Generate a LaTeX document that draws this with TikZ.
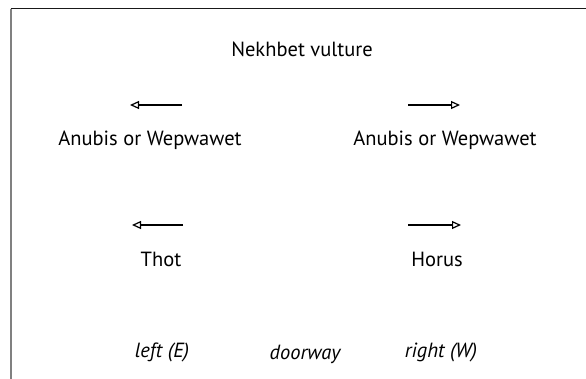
\documentclass[tikz,border=0pt]{standalone}
\usepackage{fontspec}
\setmainfont{PT Sans}
\usetikzlibrary{arrows.meta}
\begin{document}
\begin{tikzpicture}[x=1pt,y=-1pt,
  lbl/.style={inner sep=0pt,anchor=base,font=\fontsize{20.5}{24}\selectfont},
  ilbl/.style={lbl,font=\fontsize{20.5}{24}\selectfont\itshape},
  dirarrow/.style={line width=1.2pt,-{Triangle[open,length=9pt,width=8pt,line width=1.2pt]}}]
\useasboundingbox (0,0) rectangle (586,379);
\coordinate (fTL) at (10.5,9);
\coordinate (fTR) at (586,9);
\coordinate (fBL) at (10.5,379);
\draw[line width=1pt,black!90] (fTL) -- (fTR);
\draw[line width=2pt,black!50] (fTL) -- (fBL);
\node[lbl] (nek) at (302,57) {Nekhbet vulture};
\node[lbl] (anl) at (150,146) {Anubis or Wepwawet};
\node[lbl] (anr) at (445,146) {Anubis or Wepwawet};
\node[lbl] (thot) at (161,267) {Thot};
\node[lbl] (horus) at (437,267) {Horus};
\node[ilbl] (left) at (162,357) {left (E)};
\node[ilbl] (door) at (305,359) {doorway};
\node[ilbl] (right) at (441,357) {right (W)};
\coordinate (a1s) at (182,105); \coordinate (a1e) at (130,105);
\coordinate (a2s) at (408,105); \coordinate (a2e) at (460,105);
\coordinate (a3s) at (183,225); \coordinate (a3e) at (132,225);
\coordinate (a4s) at (408,225); \coordinate (a4e) at (461,225);
\draw[dirarrow] (a1s) -- (a1e);
\draw[dirarrow] (a2s) -- (a2e);
\draw[dirarrow] (a3s) -- (a3e);
\draw[dirarrow] (a4s) -- (a4e);
\end{tikzpicture}
\end{document}
